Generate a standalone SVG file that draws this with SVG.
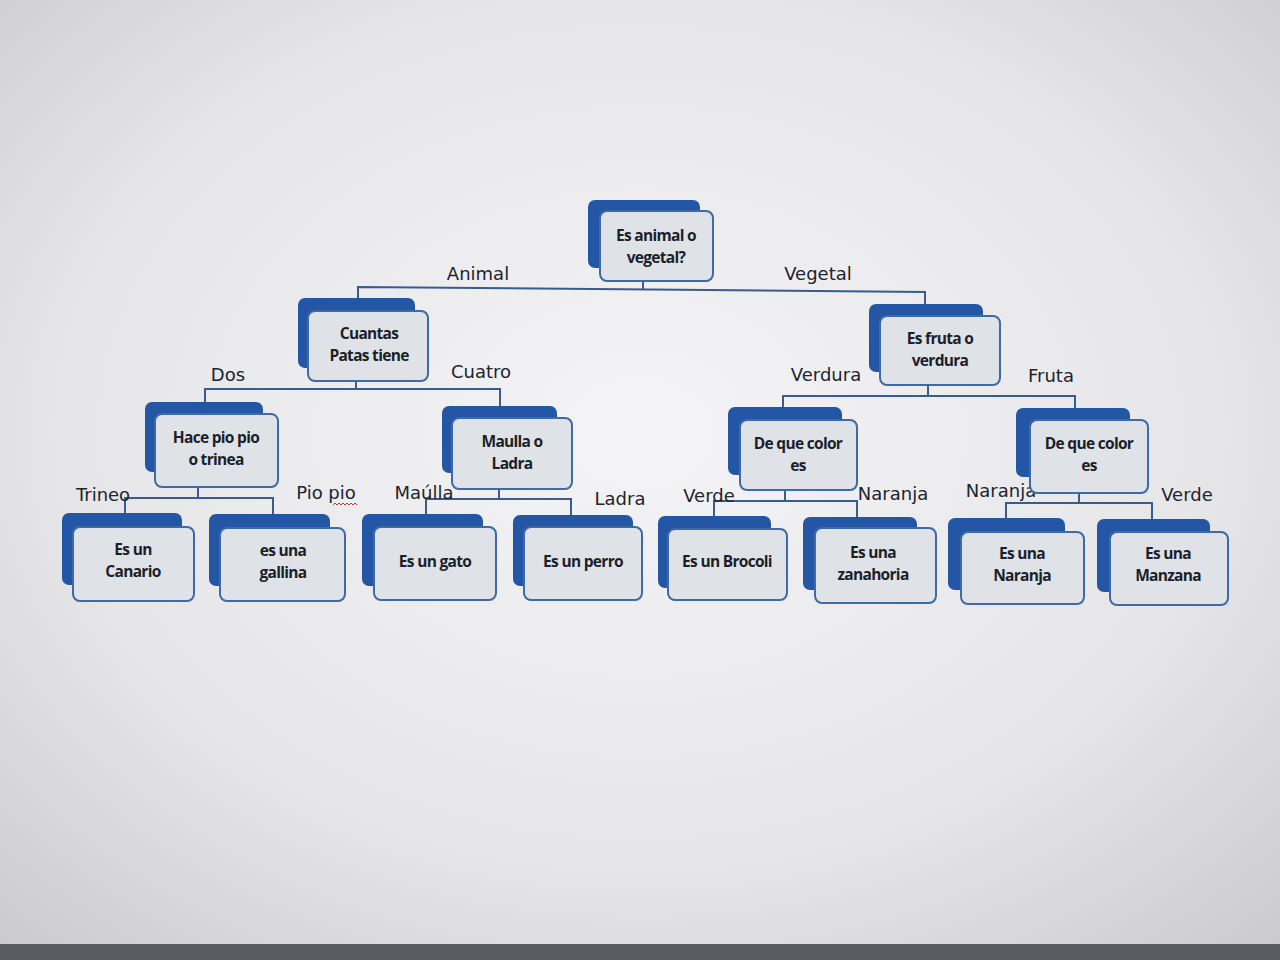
<svg xmlns="http://www.w3.org/2000/svg" width="1280" height="960" viewBox="0 0 1280 960">
<defs>
<radialGradient id="bg" cx="0.5" cy="0.45" r="0.75">
<stop offset="0" stop-color="#f4f4f6"/>
<stop offset="0.6" stop-color="#e6e6e9"/>
<stop offset="1" stop-color="#c9c9cd"/>
</radialGradient>
<style>
.back{fill:#2456a6;}
.front{fill:#dfe2e7;stroke:#3f6aa6;stroke-width:2;}
.nt{font-family:"Open Sans","Liberation Sans",sans-serif;font-weight:700;font-size:15.5px;fill:#1a1f2a;text-anchor:middle;letter-spacing:-0.7px;}
.lb{font-family:"DejaVu Sans","Liberation Sans",sans-serif;font-size:18px;fill:#20242c;text-anchor:middle;}
.cn{fill:none;stroke:#3a5c8c;stroke-width:2;}
</style>
</defs>
<rect width="1280" height="960" fill="url(#bg)"/>
<rect x="0" y="944" width="1280" height="16" fill="#5a5c62"/>

<g id="connectors">
<path class="cn" d="M643,281 V289 M358,300 V287 L925,292 V305"/>
<path class="cn" d="M356,381 V389 M205,402 V389 H500 V406"/>
<path class="cn" d="M928,385 V396 M783,408 V396 H1075 V409"/>
<path class="cn" d="M198,487 V498 M125,514 V498 H273 V515"/>
<path class="cn" d="M499,489 V499 M426,515 V499 H571 V516"/>
<path class="cn" d="M785,490 V501 M714,517 V501 H857 V518"/>
<path class="cn" d="M1079,493 V503 M1006,519 V503 H1152 V520"/>
</g>

<g id="edge-labels">
<text class="lb" x="478" y="280">Animal</text>
<text class="lb" x="818" y="280">Vegetal</text>
<text class="lb" x="228" y="381">Dos</text>
<text class="lb" x="481" y="378">Cuatro</text>
<text class="lb" x="826" y="381">Verdura</text>
<text class="lb" x="1051" y="382">Fruta</text>
<text class="lb" x="103" y="501">Trineo</text>
<text class="lb" x="326" y="499">Pio pio</text>
<path d="M333,505 l2,-2 l2,2 l2,-2 l2,2 l2,-2 l2,2 l2,-2 l2,2 l2,-2 l2,2 l2,-2 l2,2" fill="none" stroke="#d03030" stroke-width="1"/>
<text class="lb" x="424" y="499">Maúlla</text>
<text class="lb" x="620" y="505">Ladra</text>
<text class="lb" x="709" y="502">Verde</text>
<text class="lb" x="893" y="500">Naranja</text>
<text class="lb" x="1001" y="497">Naranja</text>
<text class="lb" x="1187" y="501">Verde</text>
</g>

<g id="n-root">
<rect class="back" x="588" y="200" width="112" height="68" rx="7"/>
<rect class="front" x="600" y="211" width="113" height="70" rx="7"/>
<text class="nt" x="656" y="241">Es animal o</text>
<text class="nt" x="656" y="263">vegetal?</text>
</g>

<g id="n-cuantas">
<rect class="back" x="298" y="298" width="117" height="70" rx="7"/>
<rect class="front" x="308" y="311" width="120" height="70" rx="7"/>
<text class="nt" x="369" y="339">Cuantas</text>
<text class="nt" x="369" y="361">Patas tiene</text>
</g>

<g id="n-fruta">
<rect class="back" x="869" y="304" width="114" height="68" rx="7"/>
<rect class="front" x="880" y="316" width="120" height="69" rx="7"/>
<text class="nt" x="940" y="344">Es fruta o</text>
<text class="nt" x="940" y="366">verdura</text>
</g>

<g id="n-hace">
<rect class="back" x="145" y="402" width="118" height="70" rx="7"/>
<rect class="front" x="155" y="414" width="123" height="73" rx="7"/>
<text class="nt" x="216" y="443">Hace pio pio</text>
<text class="nt" x="216" y="465">o trinea</text>
</g>

<g id="n-maulla">
<rect class="back" x="442" y="406" width="115" height="67" rx="7"/>
<rect class="front" x="452" y="418" width="120" height="71" rx="7"/>
<text class="nt" x="512" y="447">Maulla o</text>
<text class="nt" x="512" y="469">Ladra</text>
</g>

<g id="n-color1">
<rect class="back" x="728" y="407" width="114" height="68" rx="7"/>
<rect class="front" x="740" y="420" width="117" height="70" rx="7"/>
<text class="nt" x="798" y="449">De que color</text>
<text class="nt" x="798" y="471">es</text>
</g>

<g id="n-color2">
<rect class="back" x="1016" y="408" width="114" height="69" rx="7"/>
<rect class="front" x="1030" y="420" width="118" height="73" rx="7"/>
<text class="nt" x="1089" y="449">De que color</text>
<text class="nt" x="1089" y="471">es</text>
</g>

<g id="n-canario">
<rect class="back" x="62" y="513" width="120" height="72" rx="7"/>
<rect class="front" x="73" y="527" width="121" height="74" rx="7"/>
<text class="nt" x="133" y="555">Es un</text>
<text class="nt" x="133" y="577">Canario</text>
</g>

<g id="n-gallina">
<rect class="back" x="209" y="514" width="121" height="72" rx="7"/>
<rect class="front" x="220" y="528" width="125" height="73" rx="7"/>
<text class="nt" x="283" y="556">es una</text>
<text class="nt" x="283" y="578">gallina</text>
</g>

<g id="n-gato">
<rect class="back" x="362" y="514" width="121" height="72" rx="7"/>
<rect class="front" x="374" y="527" width="122" height="73" rx="7"/>
<text class="nt" x="435" y="567">Es un gato</text>
</g>

<g id="n-perro">
<rect class="back" x="513" y="515" width="120" height="71" rx="7"/>
<rect class="front" x="524" y="527" width="118" height="73" rx="7"/>
<text class="nt" x="583" y="567">Es un perro</text>
</g>

<g id="n-brocoli">
<rect class="back" x="658" y="516" width="113" height="72" rx="7"/>
<rect class="front" x="668" y="529" width="119" height="71" rx="7"/>
<text class="nt" x="727" y="567">Es un Brocoli</text>
</g>

<g id="n-zanahoria">
<rect class="back" x="803" y="517" width="114" height="73" rx="7"/>
<rect class="front" x="815" y="528" width="121" height="75" rx="7"/>
<text class="nt" x="873" y="558">Es una</text>
<text class="nt" x="873" y="580">zanahoria</text>
</g>

<g id="n-naranja">
<rect class="back" x="948" y="518" width="117" height="72" rx="7"/>
<rect class="front" x="961" y="532" width="123" height="72" rx="7"/>
<text class="nt" x="1022" y="559">Es una</text>
<text class="nt" x="1022" y="581">Naranja</text>
</g>

<g id="n-manzana">
<rect class="back" x="1097" y="519" width="113" height="73" rx="7"/>
<rect class="front" x="1110" y="532" width="118" height="73" rx="7"/>
<text class="nt" x="1168" y="559">Es una</text>
<text class="nt" x="1168" y="581">Manzana</text>
</g>
</svg>
